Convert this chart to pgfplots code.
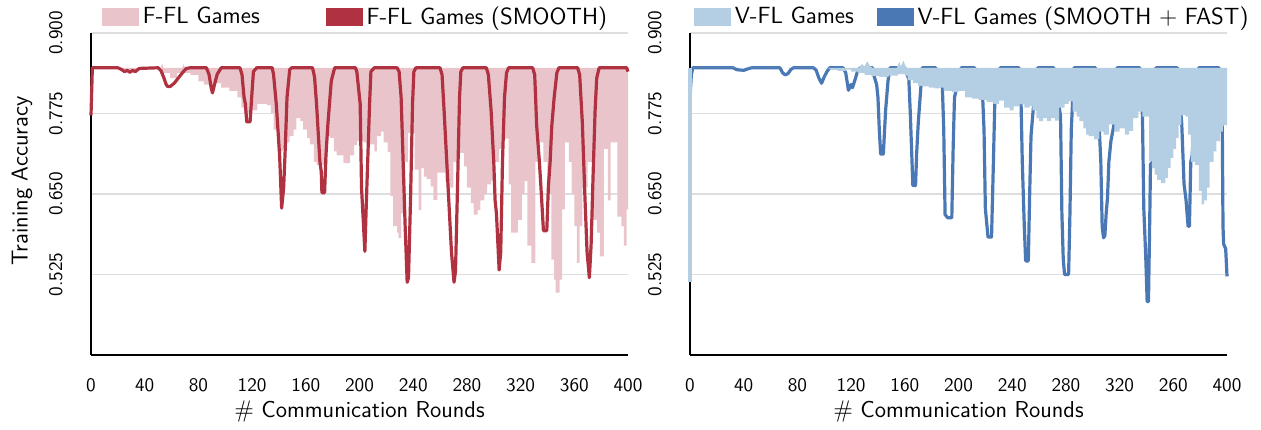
\documentclass[border=0pt]{standalone}
\usepackage{pgfplots}
\pgfplotsset{compat=1.18}
\usepgfplotslibrary{fillbetween}
\renewcommand{\familydefault}{\sfdefault}
\definecolor{ffl}{RGB}{234,196,203}
\definecolor{fflS}{RGB}{176,50,64}
\definecolor{vfl}{RGB}{180,207,227}
\definecolor{vflS}{RGB}{74,120,181}

\pgfplotsset{
  myax/.style={
    scale only axis, width=268.5pt, height=161pt,
    xmin=0, xmax=400, ymin=0.4, ymax=0.9,
    axis x line*=bottom, axis y line*=left,
    axis line style={line width=0.6pt, -},
    xtick={0,40,80,120,160,200,240,280,320,360,400},
    xticklabels={0,40,80,120,160,200,240,280,320,360,400},
    ytick={0.525,0.65,0.775,0.9},
    yticklabels={0.525,0.650,0.775,0.900},
    ymajorgrids, grid style={line width=0.6pt, black!13},
    major tick length=0pt, tick style={draw=none},
    ticklabel style={font=\fontsize{9.6}{11}\selectfont},
    yticklabel style={rotate=90, anchor=south, inner sep=0pt},
    yticklabel shift=14pt,
    xticklabel style={anchor=north, inner sep=0pt},
    xticklabel shift=11.5pt,
    xlabel={$\#$ Communication Rounds},
    xlabel style={at={(axis description cs:0.5,0)}, anchor=center, yshift=-28.5pt, font=\fontsize{11.5}{13}\selectfont},
    legend style={draw=none, fill=none, inner sep=0pt, outer sep=0pt,
      font=\fontsize{11.7}{14}\selectfont, legend columns=2,
      cells={anchor=west}},
    clip=false,
  }
}

\begin{document}
\begin{tikzpicture}
%%%%%%%%%%%%%%%%%%%%%%%% LEFT
\begin{axis}[myax,
  ylabel={Training Accuracy},
  ylabel style={at={(axis description cs:-0.1285,0.54)}, anchor=center, font=\fontsize{11.5}{13}\selectfont},
  legend style={at={(0.0205,1.05)}, anchor=west,
    /tikz/every even column/.append style={column sep=31pt}},
]
\addlegendimage{legend image code/.code={\fill[ffl] (0pt,-4.3pt) rectangle (18pt,4.3pt);}}
\addlegendentry{F-FL Games}
\addlegendimage{legend image code/.code={\fill[fflS] (0pt,-4.3pt) rectangle (18pt,4.3pt);}}
\addlegendentry{F-FL Games (SMOOTH)}

\addplot[draw=none, name path=ftop, forget plot] coordinates {
(0,0.846)(52,0.846)(53,0.853)(54,0.846)(68,0.846)(69,0.852)(70,0.846)(400,0.846)};
\addplot[draw=none, const plot, name path=flow, forget plot] coordinates {
(0,0.846)(20,0.843)(36,0.846)(53,0.838)(59,0.83)(64,0.838)(74,0.835)(80,0.825)(84,0.82)
(91,0.822)(97,0.815)(103,0.81)(109,0.80)(112,0.784)(114,0.775)(120,0.78)(124,0.79)(131,0.788)
(134,0.776)(136,0.75)(139,0.716)(143,0.72)(146,0.73)(148,0.74)(151,0.75)(153,0.768)(156,0.763)
(158,0.75)(161,0.737)(163,0.727)(166,0.70)(168,0.695)(173,0.695)(176,0.74)(178,0.737)(181,0.716)
(183,0.71)(188,0.698)(193,0.71)(196,0.726)(198,0.732)(203,0.73)(208,0.727)(211,0.716)(213,0.74)
(216,0.747)(218,0.73)(221,0.715)(223,0.647)(225,0.60)(228,0.59)(229,0.582)(231,0.62)(234,0.70)
(236,0.745)(238,0.745)(241,0.688)(244,0.625)(246,0.69)(248,0.677)(250,0.673)(253,0.662)(255,0.641)
(258,0.683)(261,0.683)(264,0.67)(267,0.66)(270,0.70)(273,0.72)(275,0.714)(278,0.693)(280,0.66)
(283,0.636)(285,0.618)(288,0.625)(290,0.64)(293,0.65)(295,0.665)(298,0.67)(301,0.70)(304,0.72)
(306,0.736)(311,0.665)(313,0.59)(318,0.61)(321,0.65)(323,0.67)(325,0.57)(328,0.543)(331,0.70)
(334,0.73)(337,0.70)(340,0.65)(343,0.548)(345,0.517)(346,0.497)(349,0.517)(351,0.626)(353,0.73)
(356,0.70)(358,0.65)(360,0.60)(362,0.543)(364,0.60)(366,0.66)(370,0.70)(374,0.61)(377,0.59)
(379,0.553)(382,0.72)(385,0.64)(387,0.73)(392,0.615)(395,0.60)(397,0.57)(399,0.626)(400,0.626)};
\addplot[ffl, forget plot] fill between[of=ftop and flow, on layer=pre main];

\addplot[fflS, line width=1.6pt, line join=round, forget plot, on layer=main] coordinates {
(0,0.772)(1,0.846)(20,0.846)(23,0.843)(25,0.840)(27,0.842)(29,0.839)(31,0.842)(33,0.840)(36,0.845)
(50,0.846)(52,0.842)(54,0.832)(56,0.82)(57,0.817)(59,0.817)(62,0.822)(65,0.83)(68,0.838)(71,0.845)
(74,0.846)(86,0.846)(88,0.835)(89.5,0.815)(90.5,0.807)(92,0.82)(94,0.836)(97,0.846)
(111,0.846)(112.5,0.835)(114,0.80)(115,0.79)(116,0.762)(118.5,0.762)(120,0.81)(121,0.84)(123.4,0.846)
(135,0.846)(136,0.835)(138,0.79)(140.5,0.71)(142,0.628)(143.5,0.66)(144.5,0.71)(146,0.80)(148,0.843)(149.5,0.846)
(165,0.846)(166.5,0.832)(168,0.79)(170.5,0.70)(171.5,0.685)(172,0.652)(174,0.652)(175,0.71)(176.5,0.76)(179,0.826)(181.5,0.846)
(197,0.846)(198,0.84)(200.5,0.79)(201.5,0.66)(204,0.561)(205,0.63)(207.5,0.79)(208.5,0.84)(211,0.846)
(228,0.846)(229.5,0.84)(231,0.80)(232.5,0.70)(234,0.60)(235.5,0.513)(236.5,0.52)(238,0.64)(239.5,0.79)(240.5,0.84)(242,0.846)
(260,0.846)(261.5,0.835)(263,0.78)(265,0.70)(268.5,0.56)(270.4,0.513)(271.5,0.53)(273,0.66)(274.5,0.80)(275.5,0.84)(277,0.846)
(294.5,0.846)(296,0.835)(298,0.78)(300,0.70)(301,0.64)(302,0.62)(304,0.532)(305.2,0.56)(306.5,0.70)(308,0.80)(309.5,0.838)(311,0.846)
(329,0.846)(330.5,0.835)(332,0.755)(334,0.70)(335.7,0.641)(337,0.593)(339.5,0.593)(340.7,0.662)(342,0.70)(343.2,0.755)(345,0.80)(347,0.838)(348.5,0.846)
(362.5,0.846)(364,0.835)(366,0.76)(368,0.64)(369.5,0.56)(371.2,0.52)(372.5,0.57)(374,0.68)(375.5,0.78)(376.7,0.83)(378.5,0.846)
(398,0.846)(399,0.846)(400,0.84)};
\end{axis}

%%%%%%%%%%%%%%%%%%%%%%%% RIGHT
\begin{axis}[myax, at={(299.5pt,0pt)},
  xticklabels={0,40,80,120,160,200,240,280,320,260,400},
  legend style={at={(0.0074,1.05)}, anchor=west,
    /tikz/every even column/.append style={column sep=9.5pt}},
]
\addlegendimage{legend image code/.code={\fill[vfl] (0pt,-4.3pt) rectangle (18pt,4.3pt);}}
\addlegendentry{V-FL Games}
\addlegendimage{legend image code/.code={\fill[vflS] (0pt,-4.3pt) rectangle (18pt,4.3pt);}}
\addlegendentry{V-FL Games (SMOOTH $+$ FAST)}

\addplot[vflS, line width=1.6pt, line join=round, forget plot, on layer=pre main] coordinates {
(0,0.80)(1,0.835)(2,0.846)(32,0.846)(35,0.843)(40,0.842)(44,0.845)(46,0.846)
(67,0.846)(69,0.838)(71,0.835)(73,0.837)(75,0.843)(77,0.846)
(92,0.846)(94,0.842)(96,0.83)(98,0.822)(100,0.832)(102,0.84)(104,0.846)
(114,0.846)(116,0.838)(118,0.811)(120,0.82)(121,0.815)(123,0.828)(125,0.842)(127,0.846)
(136,0.846)(137,0.834)(139,0.82)(140,0.80)(141,0.75)(142,0.712)(144,0.712)(145.7,0.78)(147.5,0.826)(149,0.846)
(160,0.846)(163,0.828)(164,0.78)(166,0.663)(168,0.663)(168.8,0.712)(170,0.76)(171.4,0.80)(173,0.846)
(183,0.846)(188,0.815)(189,0.75)(190,0.618)(192,0.613)(195,0.613)(196,0.72)(197,0.80)(202,0.846)
(212,0.846)(218,0.80)(219,0.75)(220,0.627)(222,0.583)(224.6,0.583)(226,0.70)(227,0.79)(231,0.846)
(245,0.846)(246.6,0.79)(247.5,0.70)(249,0.60)(250,0.546)(252,0.546)(253,0.65)(254,0.74)(256,0.79)(259,0.846)
(271,0.846)(276,0.77)(277,0.62)(278,0.55)(279,0.525)(282,0.525)(283,0.62)(284,0.75)(285,0.794)(286,0.846)
(302,0.846)(305,0.745)(306,0.70)(307,0.60)(308,0.582)(309,0.585)(310,0.62)(311,0.645)(312,0.70)(313.5,0.732)(316,0.76)(318,0.846)
(335,0.846)(337,0.773)(338,0.628)(339.5,0.55)(340.5,0.483)(341.5,0.483)(342.5,0.62)(343,0.696)(344.5,0.70)(346,0.80)(347,0.846)
(363,0.846)(366.3,0.758)(368,0.665)(369.5,0.64)(371,0.60)(372,0.60)(373,0.70)(374,0.71)(375.5,0.76)(379,0.846)
(394,0.846)(396.5,0.75)(397,0.60)(397.5,0.572)(399,0.565)(400,0.522)};

\addplot[vfl, line width=2pt, forget plot, on layer=main] coordinates {(0,0.514)(0,0.846)};
\addplot[draw=none, name path=vtop, forget plot] coordinates {
(0,0.846)(126,0.846)(128,0.852)(130,0.848)(132,0.856)(134,0.849)(136,0.846)
(154,0.846)(156,0.855)(157,0.848)(159,0.857)(161,0.846)(400,0.846)};
\addplot[draw=none, const plot, name path=vlow, forget plot] coordinates {
(0,0.846)(100,0.845)(104,0.843)(110,0.841)(116,0.843)(120,0.84)(125,0.838)(130,0.835)(135,0.833)
(141,0.832)(148,0.834)(155,0.836)(160,0.834)(162,0.827)(166,0.822)(170,0.818)(174,0.817)(178,0.815)
(182,0.814)(186,0.815)(189,0.81)(195,0.808)(200,0.81)(205,0.80)(210,0.798)(215,0.796)(221,0.793)
(226,0.79)(230,0.795)(234,0.784)(238,0.78)(241,0.786)(245,0.789)(249,0.784)(253,0.787)(255,0.78)
(258,0.768)(260,0.763)(263,0.768)(266,0.763)(269,0.768)(272,0.764)(275,0.784)(279,0.79)(282,0.794)
(285,0.778)(288,0.77)(290,0.763)(293,0.752)(295,0.742)(297,0.74)(301,0.735)(305,0.747)(308,0.742)
(312,0.758)(316,0.747)(320,0.752)(324,0.742)(327,0.748)(330,0.768)(334,0.778)(337,0.77)(342,0.701)
(344,0.69)(346,0.68)(348,0.672)(351,0.667)(354,0.675)(356,0.69)(358,0.706)(360,0.72)(362,0.737)
(364,0.757)(366,0.773)(369,0.77)(371,0.742)(373,0.70)(376,0.695)(379,0.655)(381,0.634)(383,0.64)
(385,0.66)(387,0.70)(390,0.716)(392,0.732)(395,0.747)(397,0.757)(400,0.76)};
\addplot[vfl, forget plot] fill between[of=vtop and vlow, on layer=main];
\end{axis}

\path (-45.5pt,-36pt) rectangle (585pt,177.5pt);
\end{tikzpicture}
\end{document}
